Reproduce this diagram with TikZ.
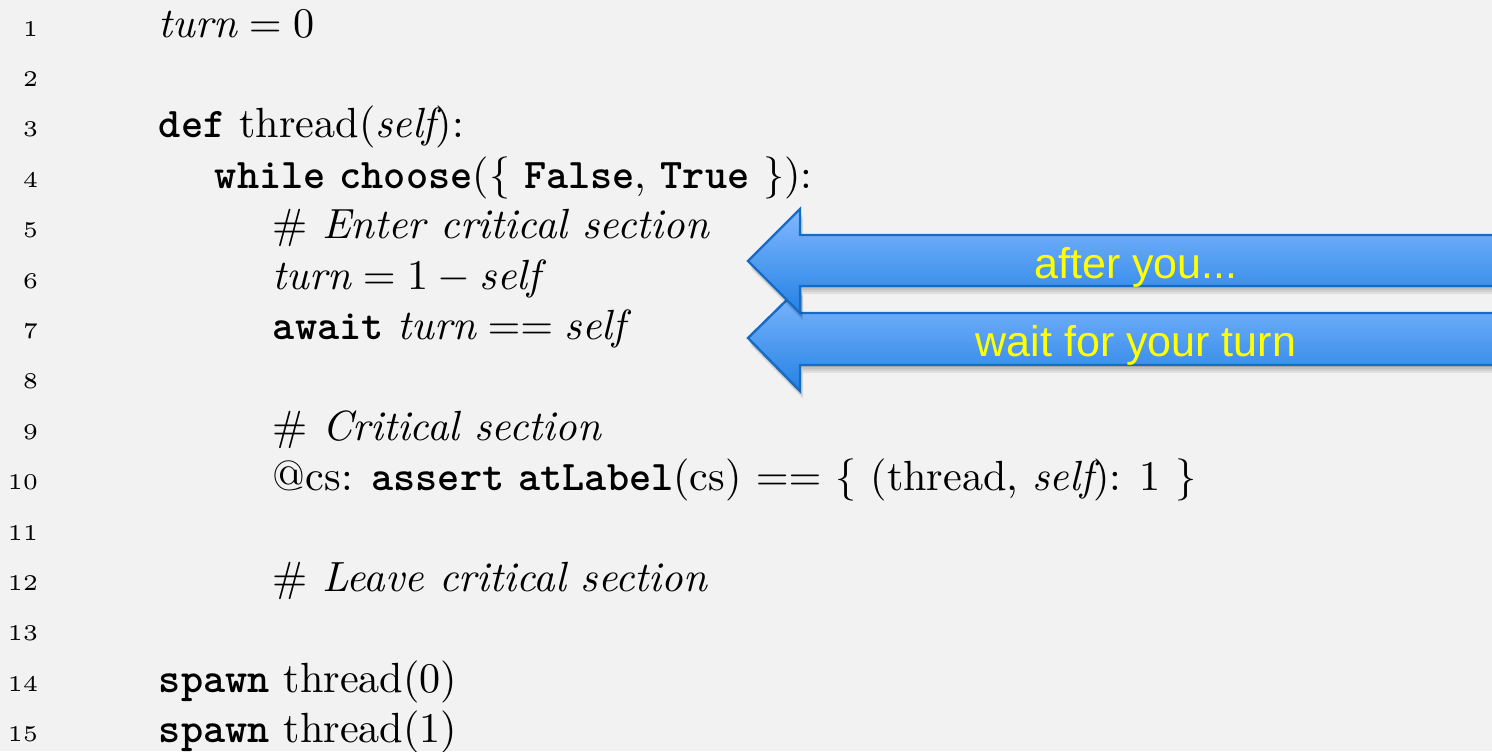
\documentclass[tikz,border=0pt]{standalone}
\usepackage{fontspec}
\setmainfont{lmroman10}[Extension=.otf, UprightFont=*-regular, ItalicFont=*-italic, BoldFont=*-bold, BoldItalicFont=*-bolditalic]
\setmonofont{lmmonolt10-bold}[Extension=.otf]
\newfontfamily\lnfont{lmroman5-regular}[Extension=.otf]
\newfontfamily\calloutfont{Liberation Sans}
\definecolor{pagebg}{RGB}{242,242,242}
\definecolor{arrowtop}{RGB}{130,184,255}
\definecolor{arrowbot}{RGB}{36,130,228}
\definecolor{arrowedge}{RGB}{22,108,196}
\definecolor{calloutyellow}{RGB}{255,255,0}
\newcommand{\kw}[1]{\texttt{#1}}
\newcommand{\vr}[1]{\mathit{#1}}
\tikzset{
  lnum/.style={anchor=base east, inner sep=0pt, scale=2.12, font=\lnfont\fontsize{5.3}{7}\selectfont},
  codeline/.style={anchor=base west, inner sep=0pt, scale=2.11, font=\fontsize{10}{12}\selectfont},
  callout/.style={draw=arrowedge, line width=1.2pt, top color=arrowtop, bottom color=arrowbot, line join=miter},
  calloutshadow/.style={fill=black, opacity=0.07},
  callouttext/.style={inner sep=0pt, anchor=base, text=calloutyellow, font=\calloutfont\fontsize{21.5}{25}\selectfont}
}
\begin{document}
\begin{tikzpicture}[x=0.5pt,y=-0.5pt]
  \fill[pagebg] (0,0) rectangle (1492,751);
  \useasboundingbox (0,0) rectangle (1492,751);
  \clip (0,0) rectangle (1492,751);

  % line numbers
  \foreach \i in {1,...,15}
    \node[lnum] (n\i) at (39,{36+(\i-1)*50.4}) {\i};

  % program text
  \node[codeline] (c1)  at (158,{37+0*50.4})  {$\vr{turn} = 0$};
  \node[codeline] (c3)  at (158,{37+2*50.4})  {\kw{def} thread($\vr{self}$):};
  \node[codeline] (c4)  at (214,{37+3*50.4})  {\kw{while} \kw{choose}(\{ \kw{False}, \kw{True} \}):};
  \node[codeline] (c5)  at (272,{37+4*50.4})  {$\#$ \textit{Enter critical section}};
  \node[codeline] (c6)  at (272,{37+5*50.4})  {$\vr{turn} = 1 - \vr{self}$};
  \node[codeline] (c7)  at (272,{37+6*50.4})  {\kw{await} $\vr{turn} == \vr{self}$};
  \node[codeline] (c9)  at (272,{37+8*50.4})  {$\#$ \textit{Critical section}};
  \node[codeline] (c10) at (272,{37+9*50.4})  {@cs: \kw{assert} \kw{atLabel}(cs) $==$ \{ (thread, $\vr{self}$): 1 \}};
  \node[codeline] (c12) at (272,{37+11*50.4}) {$\#$ \textit{Leave critical section}};
  \node[codeline] (c14) at (158,{37+13*50.4}) {\kw{spawn} thread(0)};
  \node[codeline] (c15) at (158,{37+14*50.4}) {\kw{spawn} thread(1)};

  % soft shadows under the two callout arrows
  \foreach \d in {2,4,6,8} {
    \fill[calloutshadow] (748+\d*0.4,338+\d) -- (800+\d*0.4,287+\d) -- (800+\d*0.4,313+\d) -- (1500,313+\d)
      -- (1500,365+\d) -- (800+\d*0.4,365+\d) -- (800+\d*0.4,391+\d) -- cycle;
  }
  % lower callout
  \path[callout] (748,338) -- (800,287) -- (800,313) -- (1500,313)
    -- (1500,365) -- (800,365) -- (800,391) -- cycle;
  \node[callouttext] (t2) at (1136,356) {wait for your turn};

  \foreach \d in {2,4,6,8} {
    \fill[calloutshadow] (748+\d*0.4,261+\d) -- (800+\d*0.4,209+\d) -- (800+\d*0.4,235+\d) -- (1500,235+\d)
      -- (1500,286+\d) -- (800+\d*0.4,286+\d) -- (800+\d*0.4,313+\d) -- cycle;
  }
  % upper callout
  \path[callout] (748,261) -- (800,209) -- (800,235) -- (1500,235)
    -- (1500,286) -- (800,286) -- (800,313) -- cycle;
  \node[callouttext] (t1) at (1136,278) {after you...};
\end{tikzpicture}
\end{document}
